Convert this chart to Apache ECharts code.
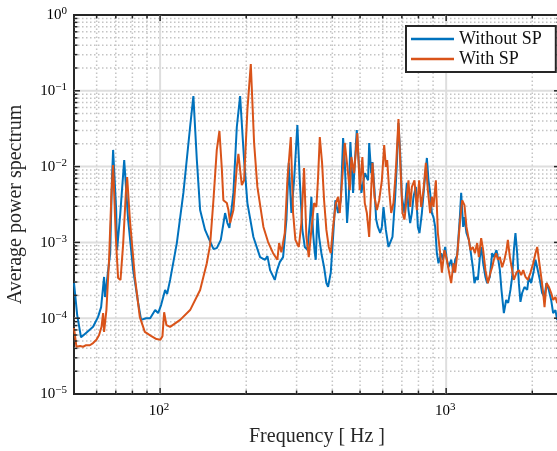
<!DOCTYPE html>
<html>
<head>
<meta charset="utf-8">
<style>
html, body { margin: 0; padding: 0; background: #fff; }
#chart { width: 557px; height: 451px; }
</style>
<script src="https://cdn.jsdelivr.net/npm/echarts@6/dist/echarts.min.js"></script>
</head>
<body>
<div id="chart"></div>
<script>
// values: frequency [Hz] and average power spectrum
var freqWithout = [50.0, 51.3, 52.9, 55.1, 58.3, 60.7, 62.2, 63.7, 64.2, 66.9, 67.9, 68.5, 70.2, 70.7, 72.5, 74.9, 77.3, 80.5, 83.8, 85.8,
  89.3, 92.3, 96.1, 98.4, 100.8, 104.1, 105.8, 108.4, 114.4, 120.6, 127.3, 130.7, 134.4, 138.0, 143.6, 148.7, 153.6, 157.8, 163.0, 168.7,
  171.9, 174.7, 180.4, 185.4, 190.4, 196.6, 201.9, 211.9, 223.6, 232.8, 237.2, 242.4, 251.7, 256.4, 262.0, 269.1, 276.4, 281.7, 287.7, 294.0,
  301.9, 307.8, 314.3, 320.4, 327.2, 333.6, 337.9, 342.6, 347.3, 350.1, 354.7, 359.5, 366.2, 374.3, 381.3, 386.5, 395.0, 402.4, 409.9, 418.9,
  428.2, 436.2, 442.2, 450.4, 456.6, 462.5, 472.7, 481.6, 487.0, 494.9, 505.4, 519.4, 533.4, 538.1, 546.8, 552.6, 561.6, 569.3, 577.1, 587.9,
  596.0, 603.8, 615.5, 628.5, 637.2, 649.1, 663.4, 672.5, 681.2, 690.6, 700.1, 714.9, 728.8, 738.3, 748.5, 758.8, 768.6, 783.6, 796.3, 806.6,
  822.4, 839.8, 856.2, 867.3, 879.2, 891.3, 902.8, 915.3, 927.9, 939.9, 960.6, 973.8, 992, 1005.6, 1018.7, 1041, 1060.5, 1075.1, 1092.6, 1116.6,
  1128.3, 1146.6, 1158.7, 1177.5, 1200.4, 1216, 1239.7, 1255.8, 1273, 1290.6, 1311.6, 1328.6, 1346.9, 1372, 1391, 1421.5, 1448, 1468, 1499, 1516,
  1540.7, 1560.7, 1591, 1620.8, 1647, 1677.8, 1701, 1724.4, 1746.7, 1770.8, 1795.2, 1818.5, 1843.5, 1878, 1919.3, 1945.7, 1982, 2025.5, 2051.8, 2080,
  2125.7, 2165.3, 2205.8, 2241.6, 2285.3, 2328, 2365.8, 2410, 2443, 2500];
var psdWithout = [2.9e-4, 1.1e-4, 5.6e-5, 6.4e-5, 7.7e-5, 1.04e-4, 1.4e-4, 3.5e-4, 1.9e-4, 7.2e-4, 7.3e-3, 1.66e-2, 2.7e-3, 7.9e-4, 2.3e-3, 1.22e-2, 2.0e-3, 4.3e-4, 1.6e-4, 9.5e-5,
  1.0e-4, 1.0e-4, 1.28e-4, 1.17e-4, 1.49e-4, 2.36e-4, 2.09e-4, 3.2e-4, 9.8e-4, 4.5e-3, 3.33e-2, 8.5e-2, 1.22e-2, 2.67e-3, 1.46e-3, 1.08e-3, 8.2e-4, 8.4e-4, 1.08e-3, 2.44e-3,
  1.8e-3, 1.55e-3, 4.5e-3, 3.33e-2, 8.5e-2, 1.22e-2, 3.3e-3, 1.18e-3, 6.4e-4, 5.9e-4, 6.6e-4, 4.3e-4, 3.2e-4, 4.3e-4, 5.5e-4, 6.4e-4, 2.0e-3, 1.12e-2, 2.44e-3, 6.6e-3,
  3.54e-2, 6.6e-3, 1.46e-3, 8.7e-4, 8.0e-4, 1.8e-3, 4.0e-3, 1.33e-3, 7.2e-4, 5.9e-4, 2.44e-3, 1.18e-3, 7.2e-4, 4.7e-4, 2.9e-4, 2.6e-4, 4.0e-4, 1.18e-3, 3.6e-3, 2.44e-3,
  3.6e-3, 2.38e-2, 1.12e-2, 1.8e-3, 4.0e-3, 2.11e-2, 4.5e-3, 1.51e-2, 3.04e-2, 1.12e-2, 4.5e-3, 8.2e-3, 6.6e-3, 2.05e-2, 8.2e-3, 1.15e-2, 4.9e-3, 2.0e-3, 1.6e-3, 1.33e-3,
  1.6e-3, 2.93e-3, 1.46e-3, 8.7e-4, 8.4e-4, 1.18e-3, 4.0e-3, 1.12e-2, 3.76e-2, 1.51e-2, 4.0e-3, 2.44e-3, 6.1e-3, 2.67e-3, 1.8e-3, 2.44e-3, 4.0e-3, 5.4e-3, 1.6e-3, 1.33e-3,
  2.44e-3, 6.1e-3, 1.3e-2, 6.6e-3, 4.5e-3, 2.44e-3, 2.16e-3, 1.6e-3, 7.2e-4, 5.3e-4, 7.2e-4, 5.9e-4, 8.7e-4, 5.9e-4, 4.7e-4, 5.9e-4, 4.0e-4, 5.9e-4, 6.8e-4, 2.16e-3,
  4.5e-3, 1.6e-3, 2.16e-3, 1.33e-3, 1.08e-3, 7.9e-4, 4.7e-4, 2.9e-4, 3.5e-4, 3.2e-4, 6.4e-4, 8.7e-4, 5.3e-4, 3.5e-4, 2.9e-4, 3.5e-4, 7.2e-4, 6.4e-4, 7.9e-4, 6.4e-4,
  4.3e-4, 2.36e-4, 1.17e-4, 1.74e-4, 1.59e-4, 2.36e-4, 3.5e-4, 7.9e-4, 1.33e-3, 7.2e-4, 2.9e-4, 1.64e-4, 2.15e-4, 2.58e-4, 2.36e-4, 3.5e-4, 2.9e-4, 4.3e-4, 5.9e-4, 4.7e-4,
  3.2e-4, 2.15e-4, 1.9e-4, 2.9e-4, 2.36e-4, 1.74e-4, 1.17e-4, 1.28e-4, 9.5e-5, 1.0e-4];

var freqWith = [50.0, 51.0, 52.5, 53.8, 55.1, 56.8, 58.3, 59.9, 61.2, 62.4, 63.2, 63.7, 64.9, 66.3, 67.6, 68.5, 70.0, 71.3, 72.7, 74.3,
  75.9, 76.7, 78.4, 81.6, 84.9, 88.4, 93.2, 97.1, 100.2, 101.9, 103.3, 105.2, 108.4, 117.5, 127.3, 138.0, 145.6, 149.5, 153.6, 157.8,
  161.2, 164.3, 166.4, 171.1, 173.3, 175.7, 180.4, 185.4, 187.8, 193.0, 196.6, 201.9, 207.5, 213.1, 218.8, 229.7, 238.5, 248.3, 257.0, 260.6,
  265.4, 272.8, 278.6, 286.3, 291.7, 297.1, 305.4, 311.8, 318.6, 324.6, 330.9, 337.9, 345.4, 351.8, 356.7, 361.6, 368.3, 374.3, 381.3, 388.7,
  395.0, 402.4, 411.3, 418.9, 424.7, 432.7, 442.2, 451.5, 460.3, 466.3, 476.5, 489.3, 498.9, 509.4, 519.4, 528.2, 538.1, 546.8, 552.6, 561.6,
  572.5, 583.3, 596.0, 607.2, 615.5, 622.0, 632.1, 642.4, 654.3, 667.1, 681.2, 690.6, 703.5, 714.9, 728.8, 738.3, 748.5, 758.8, 774.8, 789.9,
  804.7, 817.7, 833.0, 849.3, 863.0, 879.2, 891.3, 902.8, 920.4, 935.4, 952.9, 966.0, 986.4, 1005.6, 1024.4, 1041, 1060.5, 1075.1, 1097, 1116.6,
  1137.4, 1158.7, 1177.5, 1200.4, 1216, 1239.7, 1260, 1283.4, 1301, 1325.5, 1346.9, 1372, 1398.7, 1428.3, 1448, 1468, 1495.5, 1516, 1540.7, 1569.5,
  1598.7, 1624.7, 1643.1, 1669.8, 1701, 1724.4, 1761, 1795.2, 1829, 1859, 1893.7, 1930.6, 1971.5, 2014.8, 2052.6, 2080.9, 2109.6, 2149.1, 2184, 2207,
  2243, 2287, 2329, 2366, 2410, 2443, 2500];
var psdWith = [7.4e-5, 4.2e-5, 4.3e-5, 4.2e-5, 4.4e-5, 4.4e-5, 4.7e-5, 5.2e-5, 6.0e-5, 7.7e-5, 1.17e-4, 6.6e-5, 1.28e-4, 5.9e-4, 4.5e-3, 1.05e-2, 1.18e-3, 3.4e-4, 3.2e-4, 9.8e-4,
  4.5e-3, 7.3e-3, 2.0e-3, 3.5e-4, 1.04e-4, 6.6e-5, 5.8e-5, 5.3e-5, 5.2e-5, 5.8e-5, 1.2e-4, 8.1e-5, 7.7e-5, 9.5e-5, 1.28e-4, 2.36e-4, 5.3e-4, 9.2e-4, 3.6e-3, 1.66e-2,
  2.95e-2, 9.6e-3, 3.6e-3, 3.3e-3, 2.67e-3, 1.8e-3, 2.67e-3, 9.9e-3, 1.47e-2, 5.7e-3, 6.6e-3, 5.6e-2, 2.26e-1, 2.05e-2, 5.4e-3, 1.6e-3, 1.01e-3, 7.2e-4, 5.9e-4, 9.8e-4,
  7.4e-4, 1.33e-3, 6.6e-3, 2.46e-2, 2.44e-3, 1.08e-3, 8.7e-4, 1.8e-3, 9.6e-3, 1.18e-3, 6.4e-4, 1.46e-3, 3.3e-3, 2.93e-3, 7.3e-3, 2.46e-2, 1.12e-2, 3.6e-3, 1.46e-3, 8.7e-4,
  7.2e-4, 1.6e-3, 3.3e-3, 4.0e-3, 2.44e-3, 6.6e-3, 2.05e-2, 9.9e-3, 4.9e-3, 1.34e-2, 8.2e-3, 2.77e-2, 4.9e-3, 1.34e-2, 3.3e-3, 2.44e-3, 1.18e-3, 4.9e-3, 1.12e-2, 4.0e-3,
  2.67e-3, 3.6e-3, 6.6e-3, 1.93e-2, 9.9e-3, 1.22e-2, 4.9e-3, 2.44e-3, 3.3e-3, 9.0e-3, 4.25e-2, 1.22e-2, 2.44e-3, 2.0e-3, 4.0e-3, 6.6e-3, 2.93e-3, 5.4e-3, 6.6e-3, 2.67e-3,
  6.6e-3, 2.93e-3, 4.9e-3, 1.12e-2, 4.9e-3, 2.44e-3, 4.0e-3, 2.93e-3, 6.6e-3, 1.33e-3, 7.2e-4, 4.0e-4, 7.9e-4, 5.9e-4, 4.0e-4, 2.9e-4, 5.3e-4, 4.0e-4, 7.9e-4, 1.8e-3,
  3.6e-3, 3.1e-3, 1.6e-3, 1.08e-3, 7.9e-4, 8.7e-4, 7.2e-4, 9.8e-4, 6.4e-4, 1.14e-3, 7.9e-4, 4.3e-4, 2.9e-4, 4.0e-4, 4.7e-4, 5.9e-4, 7.2e-4, 5.9e-4, 6.4e-4, 4.7e-4,
  5.9e-4, 7.9e-4, 1.08e-3, 6.4e-4, 4.3e-4, 3.2e-4, 4.0e-4, 4.3e-4, 3.7e-4, 4.3e-4, 3.5e-4, 3.2e-4, 4.0e-4, 5.3e-4, 7.2e-4, 8.7e-4, 5.9e-4, 3.5e-4, 2.15e-4, 1.4e-4,
  2.9e-4, 2.58e-4, 2.15e-4, 1.74e-4, 1.9e-4, 1.59e-4, 1.74e-4];

// axes
var xMin = 50, xMax = 2500, yMin = 1e-5, yMax = 1;
var xMajorTicks = [100, 1000];
var xMajorLabels = ['2', '3'];
var xMinorTicks = [60, 70, 80, 90, 200, 300, 400, 500, 600, 700, 800, 900, 2000];
var yMajorTicks = [1, 1e-1, 1e-2, 1e-3, 1e-4, 1e-5];
var yMajorLabels = ['0', '\u22121', '\u22122', '\u22123', '\u22124', '\u22125'];
var yMinorTicks = [];
for (var k = -5; k < 0; k++) {
  for (var m = 2; m <= 9; m++) yMinorTicks.push(m * Math.pow(10, k));
}

var FONT = 'Liberation Serif';
var AXIS_COLOR = '#262626';

function zip(xs, ys) {
  return xs.map(function (x, i) { return [x, ys[i]]; });
}

function gridLines(params, api) {
  var out = [];
  var minorStyle = { stroke: '#c4c4c4', lineWidth: 1.5, lineDash: [1.5, 2.5] };
  var majorStyle = { stroke: '#dedede', lineWidth: 2 };
  xMinorTicks.forEach(function (v) {
    var a = api.coord([v, yMin]), b = api.coord([v, yMax]);
    out.push({ type: 'line', shape: { x1: a[0], y1: a[1], x2: b[0], y2: b[1] }, style: minorStyle });
  });
  yMinorTicks.forEach(function (v) {
    var a = api.coord([xMin, v]), b = api.coord([xMax, v]);
    out.push({ type: 'line', shape: { x1: a[0], y1: a[1], x2: b[0], y2: b[1] }, style: minorStyle });
  });
  xMajorTicks.forEach(function (v) {
    var a = api.coord([v, yMin]), b = api.coord([v, yMax]);
    out.push({ type: 'line', shape: { x1: a[0], y1: a[1], x2: b[0], y2: b[1] }, style: majorStyle });
  });
  yMajorTicks.slice(1, -1).forEach(function (v) {
    var a = api.coord([xMin, v]), b = api.coord([xMax, v]);
    out.push({ type: 'line', shape: { x1: a[0], y1: a[1], x2: b[0], y2: b[1] }, style: majorStyle });
  });
  return { type: 'group', children: out };
}

function ticksAndLabels(params, api) {
  var out = [];
  var tickStyle = { stroke: AXIS_COLOR, lineWidth: 1.5 };
  var lo = api.coord([xMin, yMin]), hi = api.coord([xMax, yMax]);
  function xTick(v, len) {
    var p = api.coord([v, yMin]);
    out.push({ type: 'line', shape: { x1: p[0], y1: lo[1], x2: p[0], y2: lo[1] - len }, style: tickStyle });
    out.push({ type: 'line', shape: { x1: p[0], y1: hi[1], x2: p[0], y2: hi[1] + len }, style: tickStyle });
  }
  function yTick(v, len) {
    var p = api.coord([xMin, v]);
    out.push({ type: 'line', shape: { x1: lo[0], y1: p[1], x2: lo[0] + len, y2: p[1] }, style: tickStyle });
    out.push({ type: 'line', shape: { x1: hi[0], y1: p[1], x2: hi[0] - len, y2: p[1] }, style: tickStyle });
  }
  xMinorTicks.forEach(function (v) { xTick(v, 3.5); });
  xMajorTicks.forEach(function (v) { xTick(v, 6); });
  yMinorTicks.forEach(function (v) { yTick(v, 3.5); });
  yMajorTicks.forEach(function (v) { yTick(v, 6); });

  var rich = {
    a: { fontFamily: FONT, fontSize: 15, lineHeight: 15, padding: [4, 0, 0, 0], color: AXIS_COLOR },
    b: { fontFamily: FONT, fontSize: 11, lineHeight: 11, verticalAlign: 'top', color: AXIS_COLOR }
  };
  xMajorTicks.forEach(function (v, i) {
    var p = api.coord([v, yMin]);
    out.push({ type: 'text', x: p[0] - 1, y: lo[1] + 8,
      style: { text: '{a|10}{b|' + xMajorLabels[i] + '}', rich: rich, align: 'center', verticalAlign: 'top' } });
  });
  yMajorTicks.forEach(function (v, i) {
    var p = api.coord([xMin, v]);
    out.push({ type: 'text', x: lo[0] - 7, y: p[1] - 1.5,
      style: { text: '{a|10}{b|' + yMajorLabels[i] + '}', rich: rich, align: 'right', verticalAlign: 'middle' } });
  });
  return { type: 'group', children: out };
}

var chart = echarts.init(document.getElementById('chart'));
var option = {
  animation: false,
  backgroundColor: '#fff',
  grid: {
    left: 74, top: 15, width: 486, height: 379, outerBoundsMode: 'none', containLabel: false,
    show: true, borderColor: AXIS_COLOR, borderWidth: 2, backgroundColor: 'transparent'
  },
  legend: {
    data: ['Without SP', 'With SP'],
    orient: 'vertical', left: 406, top: 26,
    icon: 'rect',
    padding: [4, 14, 4, 5], itemGap: 2, itemWidth: 43, itemHeight: 2.5,
    backgroundColor: '#fff', borderColor: AXIS_COLOR, borderWidth: 2,
    textStyle: { fontFamily: FONT, fontSize: 18, color: '#111', lineHeight: 18 }
  },
  xAxis: {
    type: 'log', logBase: 10, min: xMin, max: xMax,
    name: 'Frequency [ Hz ]', nameLocation: 'middle', nameGap: 33,
    nameTextStyle: { fontFamily: FONT, fontSize: 20, color: AXIS_COLOR },
    axisLine: { show: false }, axisTick: { show: false }, axisLabel: { show: false },
    splitLine: { show: false }, minorSplitLine: { show: false }
  },
  yAxis: {
    type: 'log', logBase: 10, min: yMin, max: yMax,
    name: 'Average power spectrum', nameLocation: 'middle', nameGap: 48,
    nameTextStyle: { fontFamily: FONT, fontSize: 20, color: AXIS_COLOR },
    axisLine: { show: false }, axisTick: { show: false }, axisLabel: { show: false },
    splitLine: { show: false }, minorSplitLine: { show: false }
  },
  series: [
    { type: 'custom', silent: true, z: 1, clip: false, data: [[xMin, yMin]], renderItem: gridLines },
    {
      name: 'Without SP', type: 'line', data: zip(freqWithout, psdWithout), symbol: 'none', z: 2,
      lineStyle: { color: '#0072BD', width: 2 }, itemStyle: { color: '#0072BD' }
    },
    {
      name: 'With SP', type: 'line', data: zip(freqWith, psdWith), symbol: 'none', z: 3,
      lineStyle: { color: '#D95319', width: 2 }, itemStyle: { color: '#D95319' }
    },
    { type: 'custom', silent: true, z: 4, clip: false, data: [[xMin, yMin]], renderItem: ticksAndLabels }
  ]
};
chart.setOption(option);
</script>
</body>
</html>
